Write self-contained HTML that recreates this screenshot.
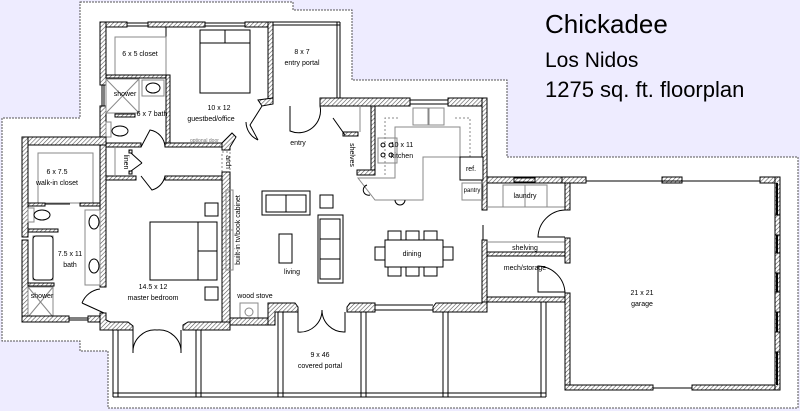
<!DOCTYPE html>
<html><head><meta charset="utf-8"><style>
html,body{margin:0;padding:0;background:#eeecff;}
svg{display:block;}
text{font-family:"Liberation Sans",sans-serif;fill:#000;}
.s{font-size:7px;text-anchor:middle;}
.w{fill:url(#h);stroke:#000;stroke-width:1;}
.l{fill:none;stroke:#000;stroke-width:1;}
.g{fill:none;stroke:#888;stroke-width:1;}
.d{fill:none;stroke:#888;stroke-width:1;stroke-dasharray:2,2;}
.f{fill:#fff;stroke:#000;stroke-width:1;}
</style></head><body>
<svg width="800" height="411" viewBox="0 0 800 411" xmlns="http://www.w3.org/2000/svg">
<defs><pattern id="h" width="3" height="3" patternUnits="userSpaceOnUse" patternTransform="rotate(45)"><rect width="3" height="3" fill="#fff"/><line x1="0" y1="0" x2="0" y2="3" stroke="#555" stroke-width="1.2"/></pattern></defs>
<rect width="800" height="411" fill="#eeecff"/>
<polygon points="80,2 293,2 293,10 352,10 352,80 507,80 507,157 798,157 798,408 108,408 108,351 80,351 80,341 2,341 2,118 80,118" fill="#fff" stroke="#555" stroke-dasharray="2,1"/>
<text x="545" y="33" style="font-size:26px">Chickadee</text>
<text x="545" y="67" style="font-size:21px">Los Nidos</text>
<text x="545" y="97" style="font-size:22px">1275 sq. ft. floorplan</text>

<!-- guest wing -->
<rect class="w" x="100" y="22" width="27" height="5"/><rect class="w" x="148" y="22" width="57" height="5"/><rect class="w" x="245" y="22" width="28" height="5"/>
<line class="l" x1="127" y1="23" x2="148" y2="23"/><line class="l" x1="127" y1="26" x2="148" y2="26"/><line class="l" x1="205" y1="23" x2="245" y2="23"/><line class="l" x1="205" y1="26" x2="245" y2="26"/>
<rect class="w" x="100" y="22" width="6" height="63"/><rect class="w" x="100" y="106" width="6" height="40"/>
<line class="l" x1="102" y1="85" x2="102" y2="106"/><line class="l" x1="104" y1="85" x2="104" y2="106"/>
<rect class="w" x="268" y="22" width="5" height="78"/>
<line class="l" x1="273" y1="22" x2="340" y2="22"/><line class="l" x1="273" y1="25" x2="340" y2="25"/><line class="l" x1="337" y1="22" x2="337" y2="98"/><line class="l" x1="340" y1="22" x2="340" y2="98"/>
<polygon class="w" points="258,100 273,98 273,104 262,106"/>
<line class="l" x1="166" y1="27" x2="166" y2="60"/><rect class="g" x="115" y="37" width="51" height="38"/>
<rect class="w" x="106" y="75" width="63" height="3"/><rect class="w" x="166" y="75" width="4" height="70"/>
<rect class="g" x="106" y="79" width="33" height="34"/><line class="g" x1="106" y1="79" x2="139" y2="113"/><line class="g" x1="139" y1="79" x2="106" y2="113"/>
<rect class="w" x="115" y="114" width="20" height="3"/>
<rect class="g" x="142" y="80" width="22" height="16"/><ellipse class="l" cx="153" cy="88" rx="7" ry="5"/>
<rect class="g" x="106" y="122" width="5" height="15"/><ellipse class="l" cx="120" cy="131" rx="8" ry="5"/>
<text class="s" x="125" y="96">shower</text><text class="s" x="152" y="116">6 x 7 bath</text><text class="s" x="140" y="56">6 x 5 closet</text>
<rect class="f" x="200" y="30" width="50" height="63"/><line class="l" x1="200" y1="43" x2="250" y2="43"/><line class="l" x1="225" y1="30" x2="225" y2="43"/>
<text class="s" x="219" y="110">10 x 12</text><text class="s" x="211" y="121">guestbed/office</text>
<text x="190" y="142" style="font-size:5px;fill:#777">optional door</text>
<text class="s" x="302" y="54">8 x 7</text><text class="s" x="302" y="65">entry portal</text>
<path class="l" d="M262,106 L250,125 L258,140 M258,140 A20,20 0 0 1 246,122"/>
<path class="l" d="M290,106 L290,131 A22,22 0 0 0 320,106"/>
<text class="s" x="298" y="145">entry</text>

<!-- hallway -->
<rect class="w" x="100" y="137" width="6" height="150"/>
<rect class="w" x="106" y="143" width="35" height="4"/><rect class="w" x="165" y="143" width="57" height="4"/>
<rect class="w" x="106" y="176" width="30" height="4"/><rect class="w" x="165" y="176" width="57" height="4"/>
<path class="l" d="M141,147 L150,130 A18,18 0 0 1 165,147 M141,176 L152,190 A18,18 0 0 0 165,176"/>
<rect class="w" x="129" y="150" width="3" height="3"/><rect class="w" x="129" y="171" width="3" height="3"/><line class="l" x1="131" y1="153" x2="142" y2="163"/><line class="l" x1="131" y1="171" x2="142" y2="163"/>
<line class="g" x1="115" y1="147" x2="115" y2="176"/>
<text class="s" transform="translate(124,162) rotate(90)">linen</text>
<polygon class="w" points="222,143 232,133 236,137 230,147 230,150 222,150"/>
<rect class="d" x="222" y="152" width="8" height="20"/>
<text class="s" transform="translate(226,162) rotate(90)">arch</text>
<rect class="w" x="222" y="172" width="8" height="153"/>

<!-- master wing -->
<rect class="w" x="22" y="137" width="84" height="8"/><rect class="w" x="22" y="137" width="6" height="100"/><rect class="w" x="22" y="240" width="6" height="82"/>
<rect class="g" x="38" y="153" width="55" height="50"/>
<rect class="w" x="28" y="203" width="17" height="3"/><rect class="w" x="80" y="203" width="20" height="3"/><line class="l" x1="45" y1="204" x2="70" y2="204" stroke="#666" stroke-width="2"/>
<text class="s" x="57" y="174">6 x 7.5</text><text class="s" x="57" y="185">walk-in closet</text>
<rect class="g" x="28" y="208" width="6" height="14"/><ellipse class="l" cx="42" cy="215" rx="8" ry="5"/>
<rect class="w" x="28" y="229" width="30" height="3"/>
<rect class="g" x="33" y="236" width="20" height="44"/><rect class="l" x="33" y="236" width="20" height="44" rx="3"/>
<rect class="w" x="28" y="283" width="26" height="3"/>
<rect class="g" x="28" y="287" width="25" height="30"/><line class="g" x1="28" y1="287" x2="53" y2="317"/><line class="g" x1="53" y1="287" x2="28" y2="317"/>
<text class="s" x="42" y="298">shower</text>
<rect class="g" x="85" y="210" width="15" height="75"/><ellipse class="l" cx="94" cy="222" rx="5" ry="7"/><ellipse class="l" cx="94" cy="266" rx="5" ry="7"/>
<text class="s" x="70" y="256">7.5 x 11</text><text class="s" x="70" y="267">bath</text>
<rect class="w" x="22" y="316" width="47" height="6"/><rect class="w" x="88" y="316" width="18" height="6"/><line class="l" x1="69" y1="318" x2="88" y2="318"/><line class="l" x1="69" y1="320" x2="88" y2="320"/>
<path class="l" d="M82,303 A22,22 0 0 1 100,289 M82,303 L104,313"/>
<polygon class="w" points="100,313 106,313 106,320 110,322 128,322 133,326 133,330 100,330"/>
<polygon class="w" points="183,330 183,325 188,322 230,322 230,330"/>
<path class="l" d="M133,330 L133,353 A22,22 0 0 1 157,330 A22,22 0 0 1 181,353 L181,330"/>
<rect class="f" x="150" y="222" width="67" height="58"/><line class="l" x1="198" y1="222" x2="198" y2="280"/><line class="l" x1="198" y1="251" x2="217" y2="251"/>
<rect class="f" x="205" y="203" width="13" height="13"/><rect class="f" x="205" y="287" width="13" height="13"/>
<text class="s" x="153" y="289">14.5 x 12</text><text class="s" x="153" y="300">master bedroom</text>

<!-- living -->
<rect class="g" x="226" y="190" width="7" height="80"/><line class="g" x1="226" y1="230" x2="233" y2="230"/>
<text class="s" transform="translate(240,230) rotate(-90)">built-in tv/book cabinet</text>
<rect class="f" x="262" y="191" width="48" height="24"/><rect class="l" x="266" y="195" width="40" height="17"/><line class="l" x1="286" y1="195" x2="286" y2="212"/>
<rect class="f" x="320" y="195" width="13" height="13"/>
<rect class="f" x="318" y="215" width="25" height="68"/><rect class="l" x="320" y="219" width="20" height="60"/><line class="l" x1="320" y1="239" x2="340" y2="239"/><line class="l" x1="320" y1="259" x2="340" y2="259"/>
<rect class="f" x="279" y="234" width="13" height="29"/>
<text class="s" x="292" y="274">living</text>
<text class="s" x="255" y="298">wood stove</text>
<rect class="g" x="240" y="303" width="18" height="17"/><circle class="g" cx="249" cy="312" r="4"/>
<rect class="w" x="230" y="318" width="45" height="7"/>
<polygon class="w" points="268,312 268,303 295,303 298,307 298,312 275,312 275,325 268,325"/>
<path class="l" d="M298,312 L298,332 A22,22 0 0 0 322,310 A22,22 0 0 0 345,332 L345,312"/>
<polygon class="w" points="347,312 347,307 350,303 375,303 375,312"/>
<line class="l" x1="375" y1="305" x2="433" y2="305"/><line class="l" x1="375" y1="310" x2="433" y2="310"/>
<polygon class="w" points="433,312 433,307 436,303 482,303 482,297 570,297 570,302 487,302 487,312"/>

<!-- shelves / kitchen -->
<rect class="w" x="320" y="98" width="90" height="8"/><rect class="w" x="448" y="98" width="39" height="8"/>
<line class="l" x1="410" y1="100" x2="448" y2="100"/><line class="l" x1="410" y1="104" x2="448" y2="104"/>
<rect class="w" x="371" y="106" width="4" height="69"/><rect class="w" x="357" y="170" width="18" height="5"/><rect class="w" x="343" y="132" width="15" height="4"/>
<line class="l" x1="333" y1="118" x2="345" y2="135"/><line class="g" x1="360" y1="106" x2="360" y2="132"/>
<text class="s" transform="translate(350,155) rotate(90)">shelves</text>
<rect class="w" x="482" y="98" width="5" height="112"/>
<path class="d" d="M385,175 L385,118 L400,118 M455,118 L470,118 L470,157"/>
<polygon points="395,127 460,127 460,157 423,157 423,200 375,200 358,178 395,178" fill="none" stroke="#888"/>
<rect class="g" x="378" y="138" width="19" height="25"/>
<circle class="l" cx="383" cy="145" r="2"/><circle class="l" cx="391" cy="145" r="2"/><circle class="l" cx="383" cy="155" r="2"/><circle class="l" cx="391" cy="155" r="2"/>
<rect class="g" x="413" y="108" width="15" height="17"/><rect class="g" x="429" y="108" width="15" height="17"/>
<path class="l" d="M367,185 A5,5 0 0 0 370,195 M395,200 A5,5 0 0 0 405,200"/>
<text class="s" x="402" y="147">10 x 11</text><text class="s" x="402" y="158">kitchen</text>
<rect class="f" x="460" y="157" width="23" height="23"/><text class="s" x="471" y="171">ref.</text>
<rect class="g" x="462" y="183" width="21" height="17"/><text class="s" x="472" y="192" style="font-size:6px">pantry</text>

<!-- dining -->
<rect class="f" x="385" y="240" width="58" height="27"/>
<rect class="f" x="388" y="231" width="13" height="9"/><rect class="f" x="406" y="231" width="13" height="9"/><rect class="f" x="424" y="231" width="13" height="9"/>
<rect class="f" x="388" y="267" width="13" height="9"/><rect class="f" x="406" y="267" width="13" height="9"/><rect class="f" x="424" y="267" width="13" height="9"/>
<rect class="f" x="375" y="247" width="10" height="13"/><rect class="f" x="443" y="247" width="10" height="13"/>
<text class="s" x="412" y="256">dining</text>

<!-- laundry / mech -->
<rect class="w" x="487" y="177" width="80" height="6"/><rect class="w" x="535" y="177" width="1" height="1"/>
<rect class="w" x="487" y="177" width="27" height="6"/><rect class="w" x="535" y="177" width="50" height="6"/>
<line class="l" x1="514" y1="178" x2="535" y2="178"/><line class="l" x1="514" y1="182" x2="535" y2="182"/>
<rect class="g" x="503" y="185" width="44" height="22"/><line class="g" x1="525" y1="185" x2="525" y2="207"/><line class="g" x1="487" y1="207" x2="565" y2="207"/>
<text class="s" x="525" y="198">laundry</text>
<rect class="w" x="482" y="240" width="5" height="62"/><line class="l" x1="483" y1="225" x2="483" y2="240"/>
<rect class="w" x="487" y="252" width="78" height="4"/><line class="g" x1="487" y1="242" x2="565" y2="242"/>
<text class="s" x="525" y="250">shelving</text><text class="s" x="525" y="270">mech/storage</text>

<!-- garage -->
<rect class="w" x="585" y="177" width="1" height="6"/>
<rect class="w" x="562" y="177" width="24" height="6"/><rect class="w" x="662" y="177" width="20" height="6"/><rect class="w" x="760" y="177" width="20" height="6"/>
<line class="l" x1="586" y1="181" x2="760" y2="181"/>
<rect class="w" x="565" y="183" width="5" height="27"/><rect class="w" x="565" y="238" width="5" height="25"/><rect class="w" x="565" y="293" width="5" height="97"/>
<path class="l" d="M565,210 A28,28 0 0 0 538,237 L565,237 M565,293 A28,28 0 0 0 538,266 L538,292 L565,292"/>
<rect class="w" x="565" y="385" width="88" height="5"/><rect class="w" x="692" y="385" width="88" height="5"/><line class="l" x1="653" y1="388" x2="692" y2="388" stroke-width="2"/>
<rect class="w" x="775" y="177" width="5" height="213"/>
<line x1="777" y1="183" x2="777" y2="385" stroke="#000" stroke-width="2"/>
<rect class="w" x="775" y="215" width="5" height="20"/><rect class="w" x="775" y="253" width="5" height="20"/><rect class="w" x="775" y="292" width="5" height="20"/><rect class="w" x="775" y="332" width="5" height="20"/>
<text class="s" x="642" y="295">21 x 21</text><text class="s" x="642" y="306">garage</text>

<!-- porch -->
<line class="l" x1="113" y1="393" x2="546" y2="393"/><line class="l" x1="113" y1="397" x2="546" y2="397"/>
<g class="l">
<line x1="113" y1="330" x2="113" y2="397"/><line x1="118" y1="330" x2="118" y2="397"/>
<line x1="196" y1="330" x2="196" y2="397"/><line x1="201" y1="330" x2="201" y2="397"/>
<line x1="278" y1="312" x2="278" y2="397"/><line x1="283" y1="312" x2="283" y2="397"/>
<line x1="361" y1="312" x2="361" y2="397"/><line x1="366" y1="312" x2="366" y2="397"/>
<line x1="443" y1="312" x2="443" y2="397"/><line x1="448" y1="312" x2="448" y2="397"/>
<line x1="541" y1="302" x2="541" y2="397"/><line x1="546" y1="302" x2="546" y2="397"/>
</g>
<text class="s" x="320" y="357">9 x 46</text><text class="s" x="320" y="368">covered portal</text>
</svg>
</body></html>
